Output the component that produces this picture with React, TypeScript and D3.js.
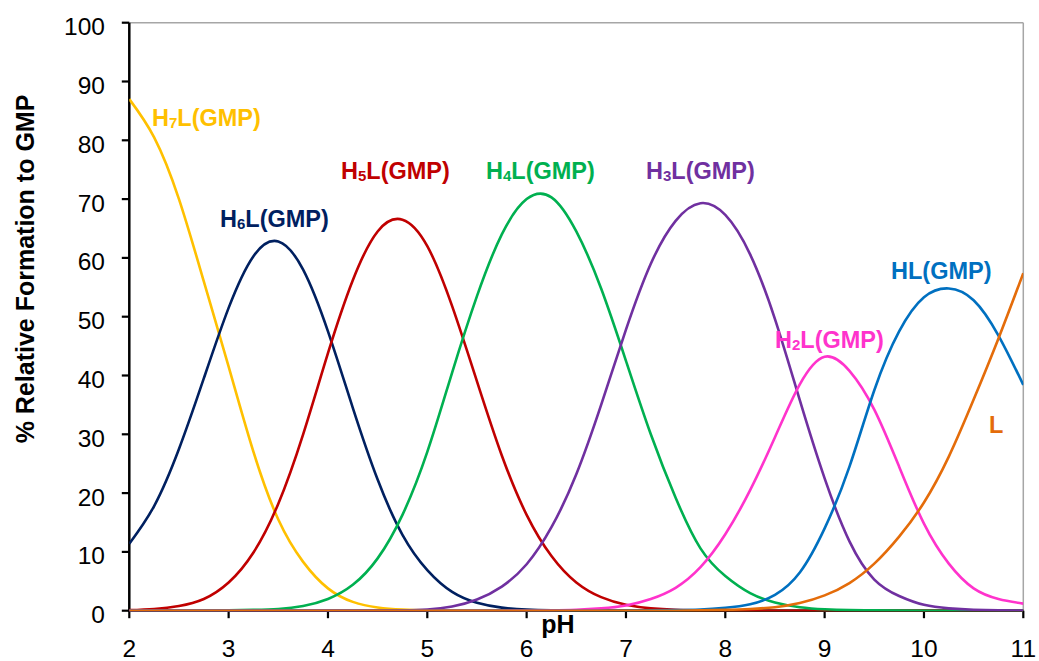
import React, { useEffect, useRef } from "react";
import * as d3 from "d3";

// pH sampling points (every 0.25 pH)
const phValues = [
  2, 2.25, 2.5, 2.75, 3, 3.25, 3.5, 3.75, 4, 4.25, 4.5, 4.75, 5, 5.25, 5.5, 5.75,
  6, 6.25, 6.5, 6.75, 7, 7.25, 7.5, 7.75, 8, 8.25, 8.5, 8.75, 9, 9.25, 9.5, 9.75,
  10, 10.25, 10.5, 10.75, 11,
];

// % relative formation of each species
const h7l = [87, 80.5, 70, 56, 41.5, 27, 15.5, 8.3, 3.8, 1.5, 0.55, 0.2, 0.07, 0.02,
  0, 0, 0, 0, 0, 0, 0, 0, 0, 0, 0, 0, 0, 0, 0, 0, 0, 0, 0, 0, 0, 0, 0];
const h6l = [11.4, 17.8, 27.5, 39.5, 51.5, 60.3, 62.8, 58, 47.5, 34.5, 22.3, 12.9, 6.9, 3.2,
  1.35, 0.52, 0.18, 0.06, 0.02, 0, 0, 0, 0, 0, 0, 0, 0, 0, 0, 0, 0, 0, 0, 0, 0, 0, 0];
const h5l = [0.1, 0.3, 0.8, 2.0, 4.8, 9.9, 18.2, 30.0, 43.8, 56.2, 64.5, 66.5, 62.0, 51.8,
  39.0, 26.4, 16.3, 9.3, 4.8, 2.3, 1.0, 0.4, 0.15, 0.05, 0, 0, 0, 0, 0, 0, 0, 0, 0, 0, 0, 0, 0];
const h4l = [0, 0, 0.01, 0.03, 0.07, 0.15, 0.3, 0.8, 2.0, 4.4, 8.9, 16.3, 27.0, 40.5, 53.5,
  64.0, 70.0, 70.3, 64.5, 54.8, 42.5, 30.0, 19.2, 10.6, 5.9, 3.0, 1.4, 0.6, 0.25, 0.1, 0.05,
  0.02, 0, 0, 0, 0, 0];
const h3l = [0, 0, 0, 0, 0, 0, 0, 0, 0.01, 0.01, 0.02, 0.06, 0.2, 0.7, 1.9, 4.1, 7.9, 14.2,
  23.2, 35.0, 47.8, 59.0, 66.3, 69.3, 67.3, 60.6, 49.6, 35.8, 22.5, 11.8, 5.3, 2.5, 1.0, 0.4,
  0.15, 0.05, 0.02];
const h2l = [0, 0, 0, 0, 0, 0, 0, 0, 0, 0, 0, 0, 0, 0, 0, 0, 0.02, 0.05, 0.15, 0.4, 0.9, 2.0,
  3.9, 7.4, 13.0, 20.5, 29.5, 38.5, 43.2, 40.8, 34.2, 24.5, 14.8, 8.0, 3.8, 2.0, 1.2];
const hl = [0, 0, 0, 0, 0, 0, 0, 0, 0, 0, 0, 0, 0, 0, 0, 0, 0, 0, 0, 0, 0, 0.05, 0.1, 0.2,
  0.5, 1.1, 2.7, 6.5, 14.0, 24.5, 37.5, 47.5, 53.3, 54.8, 52.8, 46.8, 38.4];
const lFree = [0, 0, 0, 0, 0, 0, 0, 0, 0, 0, 0, 0, 0, 0, 0, 0, 0, 0, 0, 0, 0, 0, 0, 0.05,
  0.15, 0.3, 0.6, 1.3, 2.6, 4.7, 8.0, 12.6, 18.4, 26.2, 35.9, 46.3, 57.4];

const yTicks = [0, 10, 20, 30, 40, 50, 60, 70, 80, 90, 100];
const xTicks = [2, 3, 4, 5, 6, 7, 8, 9, 10, 11];

const series = [
  { name: "H7L", sub: "7", values: h7l, color: "#FFC000", lx: 152, ly: 126 },
  { name: "H6L", sub: "6", values: h6l, color: "#002060", lx: 220, ly: 227 },
  { name: "H5L", sub: "5", values: h5l, color: "#C00000", lx: 341, ly: 179 },
  { name: "H4L", sub: "4", values: h4l, color: "#00B050", lx: 486, ly: 179 },
  { name: "H3L", sub: "3", values: h3l, color: "#7030A0", lx: 646, ly: 179 },
  { name: "H2L", sub: "2", values: h2l, color: "#FF33CC", lx: 775, ly: 348 },
  { name: "HL", sub: "", values: hl, color: "#0070C0", lx: 891, ly: 279 },
  { name: "L", sub: null, values: lFree, color: "#E46C0A", lx: 989, ly: 433 },
];

const W = 1039;
const H = 661;
const FONT = "'Liberation Sans', Arial, sans-serif";

export default function App() {
  const ref = useRef<SVGSVGElement>(null);

  useEffect(() => {
    const svg = d3.select(ref.current);
    svg.selectAll("*").remove();

    const x = d3.scaleLinear().domain([2, 11]).range([129.3, 1023.3]);
    const y = d3.scaleLinear().domain([0, 100]).range([610.7, 22.7]);

    svg.append("rect").attr("width", W).attr("height", H).attr("fill", "#fff");

    // plot frame (light top / right)
    svg.append("line")
      .attr("x1", x(2)).attr("x2", x(11)).attr("y1", y(100)).attr("y2", y(100))
      .attr("stroke", "#a6a6a6").attr("stroke-width", 1.5);
    svg.append("line")
      .attr("x1", x(11)).attr("x2", x(11)).attr("y1", y(0)).attr("y2", y(100))
      .attr("stroke", "#a6a6a6").attr("stroke-width", 1.5);

    // y axis
    svg.append("line")
      .attr("x1", x(2)).attr("x2", x(2)).attr("y1", y(0) + 1.2).attr("y2", y(100))
      .attr("stroke", "#000").attr("stroke-width", 2.5);
    svg.selectAll(".ytick").data(yTicks).enter().append("line")
      .attr("x1", x(2) - 7.5).attr("x2", x(2)).attr("y1", d => y(d)).attr("y2", d => y(d))
      .attr("stroke", "#000").attr("stroke-width", 2.2);
    svg.selectAll(".ylab").data(yTicks).enter().append("text")
      .attr("x", 105).attr("y", d => y(d) + 12.5)
      .attr("text-anchor", "end")
      .style("font-family", FONT).style("font-size", "24.5px")
      .text(d => d);

    // x axis
    svg.append("line")
      .attr("x1", x(2) - 1.2).attr("x2", x(11)).attr("y1", y(0)).attr("y2", y(0))
      .attr("stroke", "#000").attr("stroke-width", 2.5);
    svg.selectAll(".xtick").data(xTicks).enter().append("line")
      .attr("x1", d => x(d)).attr("x2", d => x(d)).attr("y1", y(0)).attr("y2", y(0) + 7.5)
      .attr("stroke", "#000").attr("stroke-width", 2.2);
    svg.selectAll(".xlab").data(xTicks).enter().append("text")
      .attr("x", d => x(d)).attr("y", 657)
      .attr("text-anchor", "middle")
      .style("font-family", FONT).style("font-size", "24.5px")
      .text(d => d);

    // axis titles
    svg.append("text")
      .attr("transform", "translate(34,269) rotate(-90)")
      .attr("text-anchor", "middle")
      .style("font-family", FONT).style("font-size", "25px").style("font-weight", "bold")
      .text("% Relative Formation to GMP");
    svg.append("text")
      .attr("x", 558).attr("y", 633)
      .attr("text-anchor", "middle")
      .style("font-family", FONT).style("font-size", "25px").style("font-weight", "bold")
      .text("pH");

    // curves
    const line = d3.line<number>()
      .x((_, i) => x(phValues[i]))
      .y(d => y(d))
      .curve(d3.curveNatural);

    svg.append("defs").append("clipPath").attr("id", "plotclip")
      .append("rect").attr("x", x(2)).attr("y", y(100) - 5)
      .attr("width", x(11) - x(2)).attr("height", y(0) - y(100) + 5.5);

    const g = svg.append("g").attr("clip-path", "url(#plotclip)");
    series.forEach(s => {
      g.append("path")
        .attr("d", line(s.values))
        .attr("fill", "none")
        .attr("stroke", s.color)
        .attr("stroke-width", 2.6);
    });

    // species labels
    series.forEach(s => {
      const t = svg.append("text")
        .attr("x", s.lx).attr("y", s.ly)
        .attr("fill", s.color)
        .style("font-family", FONT).style("font-size", "23.5px").style("font-weight", "bold");
      if (s.sub === null) {
        t.text(s.name);
      } else if (s.sub === "") {
        t.text(s.name + "(GMP)");
      } else {
        t.append("tspan").text("H");
        t.append("tspan").text(s.sub).style("font-size", "15px").attr("dy", 1.5);
        t.append("tspan").text("L(GMP)").attr("dy", -1.5);
      }
    });
  }, []);

  return (
    <svg
      ref={ref}
      width={W}
      height={H}
      style={{ position: "absolute", left: 0, top: 0 }}
    />
  );
}
